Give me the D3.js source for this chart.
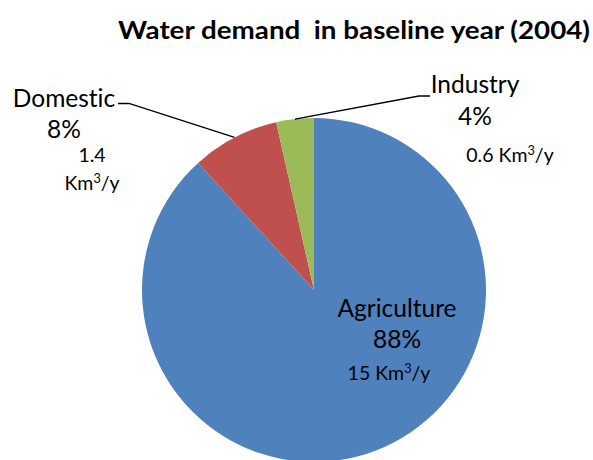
<!DOCTYPE html>
<html><head><meta charset="utf-8">
<script src="https://cdn.jsdelivr.net/npm/d3@7"></script>
<style>body{margin:0;background:#fff}svg{display:block;font-family:Lato,"Open Sans",sans-serif;font-variant-ligatures:none}</style>
</head><body>
<svg id="c" width="593" height="460"></svg>
<script>
const categories = ["Agriculture", "Domestic", "Industry"];
const volumes = [15, 1.4, 0.6];
const percentLabels = ["88%", "8%", "4%"];
const volumeLabels = ["15", "1.4", "0.6"];
const colors = ["#4F81BD", "#C0504D", "#9BBB59"];
const title = "Water demand\u00a0 in baseline year (2004)";

const svg = d3.select("#c");
const cx = 314, cy = 290, R = 172;

svg.append("text").attr("x", 118).attr("y", 39)
  .attr("font-weight", "bold").attr("font-size", 25)
  .attr("textLength", 472).attr("lengthAdjust", "spacingAndGlyphs")
  .text(title);

const pie = d3.pie().sort(null).value(d => d)(volumes);
const arc = d3.arc().innerRadius(0).outerRadius(R);
const g = svg.append("g").attr("transform", `translate(${cx},${cy})`);
g.selectAll("path").data(pie).join("path")
  .attr("d", arc).attr("fill", (d, i) => colors[i]);

// leader lines
const pt = (a, r) => [cx + r * Math.sin(a), cy - r * Math.cos(a)];
const domMid = (pie[1].startAngle + pie[1].endAngle) / 2;
const indMid = (pie[2].startAngle + pie[2].endAngle) / 2;
const d0 = pt(domMid, R);
const i0 = pt(indMid, R);
svg.append("polyline").attr("fill", "none").attr("stroke", "#000").attr("stroke-width", 1.3)
  .attr("points", [[118, 103.5], [129, 103.5], d0].map(p => p.join(",")).join(" "));
svg.append("polyline").attr("fill", "none").attr("stroke", "#000").attr("stroke-width", 1.3)
  .attr("points", [i0, [419, 96], [430, 96]].map(p => p.join(",")).join(" "));

function lbl(x, y, size, anchor, parts) {
  const t = svg.append("text").attr("x", x).attr("y", y).attr("font-size", size).attr("text-anchor", anchor).attr("fill", "#000");
  parts.forEach(p => {
    const s = t.append("tspan").text(p.t);
    if (p.sup) s.attr("font-size", size * 0.65).attr("dy", -size * 0.38);
    if (p.down) s.attr("dy", size * 0.38);
  });
  return t;
}
const big = 24.5, small = 19.5;
// Domestic
lbl(64, 107, big, "middle", [{t: categories[1]}]);
lbl(64, 138, big, "middle", [{t: percentLabels[1]}]);
lbl(92, 162, small, "middle", [{t: volumeLabels[1]}]);
lbl(92, 190, small, "middle", [{t: "Km"}, {t: "3", sup: true}, {t: "/y", down: true}]);
// Industry
lbl(475, 93, big, "middle", [{t: categories[2]}]);
lbl(475, 125, big, "middle", [{t: percentLabels[2]}]);
lbl(510, 162, small, "middle", [{t: volumeLabels[2] + " Km"}, {t: "3", sup: true}, {t: "/y", down: true}]);
// Agriculture
lbl(397, 317, big, "middle", [{t: categories[0]}]);
lbl(397, 348, big, "middle", [{t: percentLabels[0]}]);
lbl(389, 380, small, "middle", [{t: volumeLabels[0] + " Km"}, {t: "3", sup: true}, {t: "/y", down: true}]);
</script>
</body></html>
